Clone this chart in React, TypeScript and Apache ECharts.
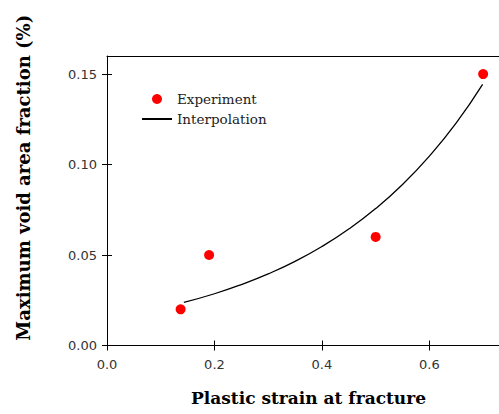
import React, { useEffect, useRef } from "react";
import * as echarts from "echarts";

const experimentX = [0.137, 0.19, 0.5, 0.7];
const experimentY = [0.02, 0.05, 0.06, 0.15];

const interpX = [0.143, 0.2, 0.25, 0.3, 0.35, 0.4, 0.45, 0.5, 0.55, 0.6, 0.65, 0.699];
const interpY = [0.0238, 0.0286, 0.0337, 0.0396, 0.0465, 0.0547, 0.0644, 0.0757, 0.089, 0.1047, 0.123, 0.1443];

const xTicks = [0, 0.2, 0.4, 0.6];
const yTicks = [0, 0.05, 0.1, 0.15];

export default function App() {
  const ref = useRef<HTMLDivElement>(null);
  useEffect(() => {
    if (!ref.current) return;
    const chart = echarts.init(ref.current, undefined, { renderer: "svg" });
    const sans = "DejaVu Sans";
    const serif = "DejaVu Serif";
    const xBase = { type: "value", min: 0, max: 0.75, interval: 0.2 };
    const yBase = { type: "value", min: 0, max: 0.16, interval: 0.05 };
    chart.setOption({
      animation: false,
      backgroundColor: "#fff",
      grid: { left: 107, top: 56, right: 0, bottom: 68.5, containLabel: false },
      legend: {
        orient: "vertical",
        left: 141,
        top: 92,
        padding: 0,
        itemWidth: 30,
        itemHeight: 10,
        itemGap: 6,
        textStyle: { fontFamily: serif, fontSize: 13.5, color: "#222" },
        data: ["Experiment", { name: "Interpolation", itemStyle: { opacity: 0 } }],
      },
      xAxis: [
        {
          ...xBase,
          position: "bottom",
          name: "Plastic strain at fracture",
          nameLocation: "middle",
          nameGap: 44,
          nameTextStyle: { fontFamily: serif, fontWeight: "bold", fontSize: 17, color: "#000" },
          axisLine: { show: true, lineStyle: { color: "#000", width: 1 } },
          axisTick: { show: true, inside: false, length: 5, customValues: xTicks, lineStyle: { color: "#000" } },
          axisLabel: {
            customValues: xTicks,
            margin: 12,
            fontFamily: sans,
            fontSize: 13,
            color: "#333",
            formatter: (v: number) => v.toFixed(1),
          },
          splitLine: { show: false },
        },
        {
          ...xBase,
          position: "bottom",
          axisLine: { show: false },
          axisTick: { show: true, inside: true, length: 5, customValues: xTicks, lineStyle: { color: "#000" } },
          axisLabel: { show: false },
          splitLine: { show: false },
        },
        {
          ...xBase,
          position: "top",
          axisLine: { show: true, lineStyle: { color: "#000", width: 1 } },
          axisTick: { show: false },
          axisLabel: { show: false },
          splitLine: { show: false },
        },
      ],
      yAxis: [
        {
          ...yBase,
          position: "left",
          name: "Maximum void area fraction (%)",
          nameLocation: "middle",
          nameGap: 75,
          nameTextStyle: {
            fontFamily: serif,
            fontWeight: "bold",
            fontSize: 18,
            color: "#000",
            padding: [0, 0, 0, 46],
          },
          axisLine: { show: true, lineStyle: { color: "#000", width: 1 } },
          axisTick: { show: true, inside: false, length: 5, customValues: yTicks, lineStyle: { color: "#000" } },
          axisLabel: {
            customValues: yTicks,
            margin: 10,
            fontFamily: sans,
            fontSize: 13,
            color: "#333",
            formatter: (v: number) => v.toFixed(2),
          },
          splitLine: { show: false },
        },
        {
          ...yBase,
          position: "left",
          axisLine: { show: false },
          axisTick: { show: true, inside: true, length: 5, customValues: yTicks, lineStyle: { color: "#000" } },
          axisLabel: { show: false },
          splitLine: { show: false },
        },
      ],
      series: [
        {
          name: "Experiment",
          type: "scatter",
          xAxisIndex: 0,
          yAxisIndex: 0,
          symbol: "circle",
          symbolSize: 10,
          itemStyle: { color: "#ff0000", opacity: 1 },
          data: experimentX.map((x, i) => [x, experimentY[i]]),
        },
        {
          name: "Interpolation",
          type: "line",
          xAxisIndex: 0,
          yAxisIndex: 0,
          smooth: true,
          symbol: "none",
          lineStyle: { color: "#000", width: 1.3 },
          itemStyle: { color: "#000" },
          data: interpX.map((x, i) => [x, interpY[i]]),
        },
      ],
    });
    return () => chart.dispose();
  }, []);
  return (
    <div style={{ position: "fixed", left: 0, top: 0, width: 499, height: 414, overflow: "hidden" }}>
      <div ref={ref} style={{ position: "absolute", left: 0, top: 0, width: 510, height: 414 }} />
    </div>
  );
}
